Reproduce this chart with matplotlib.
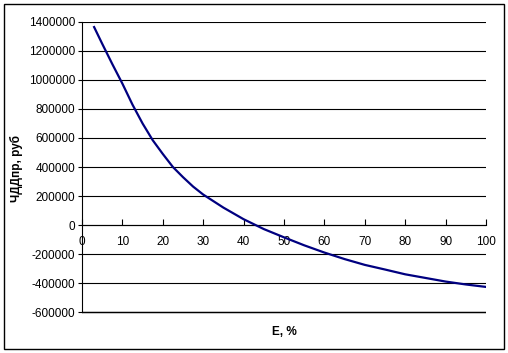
import matplotlib
matplotlib.use("Agg")
import matplotlib.pyplot as plt
from matplotlib.patches import Rectangle

# discount rate, % and NPV, rub
rate = [3, 5, 7.5, 10, 12.5, 15, 17.5, 20, 22.5, 25, 27.5, 30, 35, 40, 45,
        50, 55, 60, 65, 70, 75, 80, 85, 90, 95, 100]
npv = [1365000, 1250000, 1110000, 975000, 830000, 700000, 585000, 490000,
       400000, 330000, 265000, 210000, 120000, 40000, -28000, -85000,
       -140000, -190000, -235000, -275000, -307000, -340000, -365000,
       -390000, -410000, -427000]

x_ticks = [0, 10, 20, 30, 40, 50, 60, 70, 80, 90, 100]
y_ticks = list(range(-600000, 1400001, 200000))

plt.rcParams["font.family"] = ["Liberation Sans", "DejaVu Sans"]

fig = plt.figure(figsize=(5.08, 3.53), dpi=100)
# a little extra room below -600000 so the bottom gridline is not clipped
ax = fig.add_axes([0.1614, 0.1079, 0.9567 - 0.1614, 0.9377 - 0.1079])

# outer chart frame
fig.patches.append(Rectangle((4 / 508, 4 / 353), 500 / 508, 345 / 353,
                             transform=fig.transFigure, fill=False,
                             edgecolor="black", linewidth=1.0))

ax.grid(axis="y", color="black", linewidth=0.8)
ax.set_axisbelow(True)
# bottom gridline once more, a touch heavier, so it survives downscaling
ax.axhline(y_ticks[0], color="black", linewidth=1.0, zorder=1)

ax.plot(rate, npv, color="#000080", linewidth=1.6, zorder=5)

ax.set_xlim(0, 100)
ax.set_ylim(-620000, 1400000)
ax.set_xticks(x_ticks)
ax.set_yticks(y_ticks)
ax.set_yticklabels([str(v) for v in y_ticks])

for side in ("top", "right"):
    ax.spines[side].set_visible(False)
ax.spines["bottom"].set_position(("data", 0))
ax.spines["bottom"].set_linewidth(0.8)
ax.spines["left"].set_linewidth(0.8)
ax.spines["left"].set_bounds(-600000, 1400000)

ax.tick_params(axis="x", direction="in", length=4, width=0.8,
               labelsize=8.5, pad=8)
ax.tick_params(axis="y", direction="out", length=3, width=0.8,
               labelsize=8.5, pad=2)

ax.set_ylabel("ЧДДпр, руб", fontsize=8.5, fontweight="bold", labelpad=4)
fig.text(0.559, 1 - 332 / 353, "E, %", fontsize=8.5, fontweight="bold",
         ha="center", va="center")

fig.savefig("out.png", dpi=100)
